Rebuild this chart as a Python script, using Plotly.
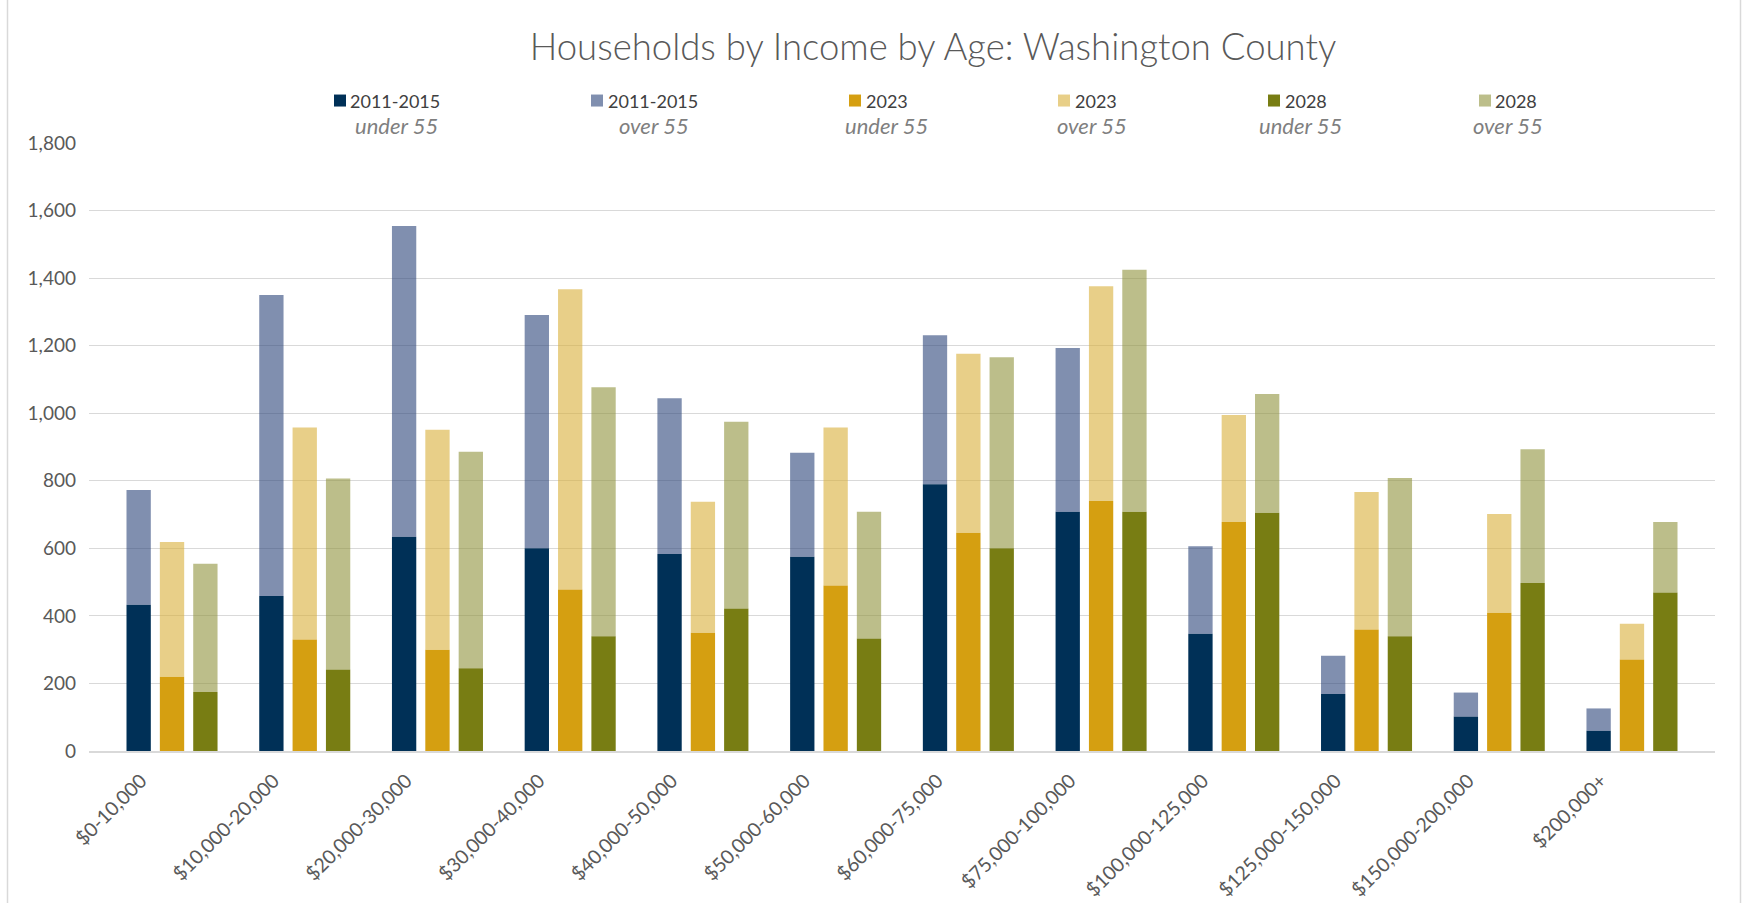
import plotly.graph_objects as go

# Income brackets (x categories)
income_brackets = [
    "$0-10,000", "$10,000-20,000", "$20,000-30,000", "$30,000-40,000",
    "$40,000-50,000", "$50,000-60,000", "$60,000-75,000", "$75,000-100,000",
    "$100,000-125,000", "$125,000-150,000", "$150,000-200,000", "$200,000+",
]

# Households, householder under 55
hh_2011_2015_under55 = [433, 459, 634, 600, 583, 575, 790, 708, 347, 169, 102, 60]
hh_2023_under55 = [220, 330, 300, 478, 350, 490, 646, 740, 678, 360, 409, 271]
hh_2028_under55 = [175, 241, 245, 340, 422, 333, 600, 708, 705, 340, 497, 469]

# Households, householder 55 and over
hh_2011_2015_over55 = [340, 891, 920, 691, 461, 308, 441, 485, 259, 113, 71, 66]
hh_2023_over55 = [399, 628, 651, 889, 388, 468, 530, 636, 317, 407, 293, 106]
hh_2028_over55 = [379, 566, 641, 737, 553, 375, 566, 717, 352, 468, 396, 209]

y_ticks = [0, 200, 400, 600, 800, 1000, 1200, 1400, 1600, 1800]

series = [
    # (period, age group, values, base values, colour, offset group)
    ("2011-2015", "under 55", hh_2011_2015_under55, None, "#003057", "a"),
    ("2011-2015", "over 55", hh_2011_2015_over55, hh_2011_2015_under55, "rgba(43,68,122,0.6)", "a"),
    ("2023", "under 55", hh_2023_under55, None, "#D59F11", "b"),
    ("2023", "over 55", hh_2023_over55, hh_2023_under55, "rgba(217,175,57,0.6)", "b"),
    ("2028", "under 55", hh_2028_under55, None, "#787D13", "c"),
    ("2028", "over 55", hh_2028_over55, hh_2028_under55, "rgba(143,147,60,0.6)", "c"),
]

W, H = 1742, 903
L, R, T, B = 89, 27, 142.5, 152
PW, PH = W - L - R, H - T - B


def px_x(px):
    return (px - L) / PW


def px_y(py):
    return (H - B - py) / PH


fig = go.Figure()
for period, age, vals, base, color, grp in series:
    fig.add_trace(go.Bar(
        x=income_brackets,
        y=vals,
        base=base,
        name=f"{period} {age}",
        offsetgroup=grp,
        marker=dict(color=color, line=dict(width=0)),
        showlegend=False,
    ))

# Legend drawn as swatches plus two-line captions
legend_items = [
    # swatch centre x, first line centre x, second line centre x
    (340, 395, 396),
    (597, 653, 654),
    (855, 887, 886),
    (1064, 1096, 1092),
    (1274, 1306, 1300),
    (1485, 1516, 1508),
]
shapes = []
annotations = []
for (period, age, _, _, color, _), (sx, tx, ux) in zip(series, legend_items):
    shapes.append(dict(
        type="rect", xref="paper", yref="paper",
        x0=px_x(sx - 6), x1=px_x(sx + 6), y0=px_y(106), y1=px_y(94),
        fillcolor=color, line=dict(width=0), layer="above",
    ))
    annotations.append(dict(
        text=period, xref="paper", yref="paper", x=px_x(tx), y=px_y(100),
        xanchor="center", yanchor="middle", showarrow=False,
        font=dict(family="Lato, sans-serif", size=18, color="#404040"),
    ))
    annotations.append(dict(
        text=f"<i>{age}</i>", xref="paper", yref="paper", x=px_x(ux), y=px_y(125),
        xanchor="center", yanchor="middle", showarrow=False,
        font=dict(family="Lato, sans-serif", size=22, color="#7f7f7f"),
    ))

# Chart-area border (left and right edges)
for edge in (7.5, 1740.5):
    shapes.append(dict(
        type="line", xref="paper", yref="paper",
        x0=px_x(edge), x1=px_x(edge), y0=-0.4, y1=1.4,
        line=dict(color="#d9d9d9", width=1.5),
    ))

pad = 0.6255
fig.update_layout(
    width=W, height=H,
    margin=dict(l=L, r=R, t=T, b=B, autoexpand=False),
    paper_bgcolor="white", plot_bgcolor="white",
    barmode="group", bargap=0.246, bargroupgap=0.271,
    title=dict(
        text="Households by Income by Age: Washington County",
        x=px_x(933), xref="paper", xanchor="center",
        y=1 - 47 / H, yref="container", yanchor="middle",
        font=dict(family="Lato, sans-serif", size=36.5, color="#595959", weight=300),
    ),
    xaxis=dict(
        type="category", range=[-pad, len(income_brackets) - 1 + pad],
        tickangle=-45, showgrid=False, ticks="",
        ticklabelshift=-31, ticklabelstandoff=9,
        showline=True, linecolor="#d9d9d9", linewidth=1.5,
        tickfont=dict(family="Lato, sans-serif", size=19.5, color="#595959"),
    ),
    yaxis=dict(
        range=[0, 1800], tickvals=y_ticks, tickformat=",",
        showgrid=True, gridcolor="#d9d9d9", gridwidth=1.3,
        zeroline=False, ticks="", ticklabelstandoff=12,
        tickfont=dict(family="Lato, sans-serif", size=19, color="#595959"),
    ),
    shapes=shapes,
    annotations=annotations,
    font=dict(family="Lato, sans-serif"),
)

fig.write_html("out.html")
